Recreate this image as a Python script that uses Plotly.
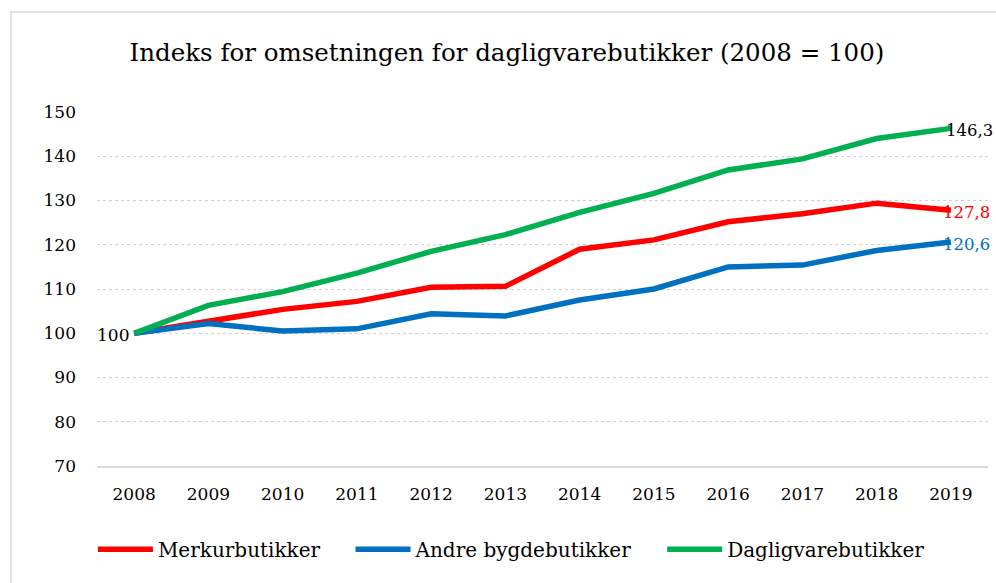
import plotly.graph_objects as go

years = ["2008", "2009", "2010", "2011", "2012", "2013", "2014", "2015", "2016", "2017", "2018", "2019"]
merkur = [100, 102.8, 105.4, 107.2, 110.4, 110.6, 119.0, 121.1, 125.2, 127.0, 129.4, 127.8]
andre = [100, 102.2, 100.5, 101.0, 104.4, 103.9, 107.5, 110.0, 115.0, 115.4, 118.7, 120.6]
daglig = [100, 106.3, 109.4, 113.6, 118.5, 122.3, 127.3, 131.6, 136.9, 139.4, 144.0, 146.3]
y_ticks = [70, 80, 90, 100, 110, 120, 130, 140, 150]

FONT = "DejaVu Serif"
PAD = "\u00a0" * 4

def fmt(v):
    return f"{v:.1f}".replace(".", ",")

fig = go.Figure()
series = [
    ("Merkurbutikker", merkur, "#FF0000", "#FF0000", -9),
    ("Andre bygdebutikker", andre, "#0070C0", "#0070C0", -9),
    ("Dagligvarebutikker", daglig, "#00B050", "#000000", -6),
]
last = len(years) - 1
for name, vals, col, tcol, xs in series:
    fig.add_trace(go.Scatter(
        x=years, y=vals, name=name + PAD, mode="lines",
        line=dict(color=col, width=5.5),
        cliponaxis=False, hoverinfo="x+y",
    ))
    fig.add_annotation(x=last, y=vals[-1], text=fmt(vals[-1]), showarrow=False,
                       xanchor="left", yanchor="middle", xshift=xs, yshift=-2,
                       borderpad=0, font=dict(family=FONT, size=16.5, color=tcol))

# start label (2008 = 100)
fig.add_annotation(x=0, y=daglig[0], text=f"{daglig[0]:.0f}", showarrow=False,
                   xanchor="right", yanchor="middle", xshift=-3, yshift=-2,
                   font=dict(family=FONT, size=17, color="#000000"))

fig.update_layout(
    width=996, height=583,
    margin=dict(l=97, r=8, t=112, b=117),
    paper_bgcolor="white", plot_bgcolor="white",
    title=dict(text="Indeks for omsetningen for dagligvarebutikker (2008 = 100)",
               x=0.509, xanchor="center", y=0.91, yanchor="middle",
               font=dict(family=FONT, size=24.5, color="#000000")),
    font=dict(family=FONT, size=17, color="#000000"),
    xaxis=dict(type="category", range=[-0.5, 11.5], showgrid=False,
               showline=True, linecolor="#d9d9d9", linewidth=2,
               ticks="", tickfont=dict(family=FONT, size=17, color="#000000"),
               ticklabelstandoff=12),
    yaxis=dict(range=[70, 150], tickvals=y_ticks, showgrid=True,
               gridcolor="#d0d0d0", griddash="dot", gridwidth=1,
               zeroline=False, ticks="", tickfont=dict(family=FONT, size=17, color="#000000"),
               ticklabelstandoff=20),
    legend=dict(orientation="h", x=0.526, xref="container", xanchor="center",
                y=0.058, yref="container", yanchor="middle",
                font=dict(family=FONT, size=20, color="#000000"),
                itemwidth=55, traceorder="normal"),
    showlegend=True,
)
fig.add_shape(type="rect", xref="paper", yref="paper",
              x0=(11 - 97) / 891, x1=1.2, y0=-0.6, y1=(466 - 12) / 354,
              line=dict(color="#d9d9d9", width=1.5), fillcolor="rgba(0,0,0,0)", layer="below")

fig.write_html("out.html", config={"displayModeBar": False},
               post_script="document.body.style.margin='0px';document.body.style.overflow='hidden';")
